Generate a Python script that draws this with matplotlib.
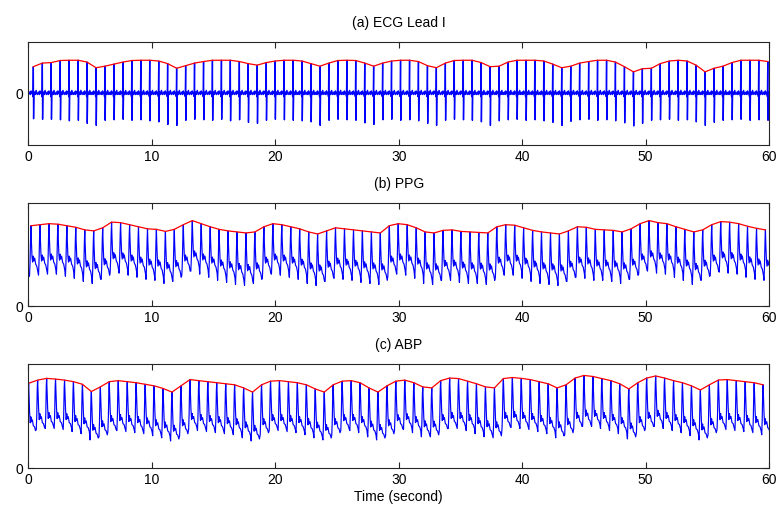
import numpy as np
import matplotlib
matplotlib.use('Agg')
import matplotlib.pyplot as plt

plt.rcParams['font.family'] = ['Liberation Sans', 'DejaVu Sans']

beat_times = [-0.33,
              0.40, 1.13, 1.85, 2.58, 3.30, 4.03, 4.75, 5.48, 6.20, 6.93,
              7.66, 8.38, 9.11, 9.83, 10.56, 11.28, 12.01, 12.74, 13.46, 14.19,
              14.91, 15.64, 16.36, 17.09, 17.81, 18.54, 19.27, 19.99, 20.72, 21.44,
              22.17, 22.89, 23.62, 24.34, 25.07, 25.80, 26.52, 27.25, 27.97, 28.70,
              29.42, 30.15, 30.88, 31.60, 32.33, 33.05, 33.78, 34.50, 35.23, 35.95,
              36.68, 37.41, 38.13, 38.86, 39.58, 40.31, 41.03, 41.76, 42.48, 43.21,
              43.94, 44.66, 45.39, 46.11, 46.84, 47.56, 48.29, 49.02, 49.74, 50.47,
              51.19, 51.92, 52.64, 53.37, 54.09, 54.82, 55.55, 56.27, 57.00, 57.72,
              58.45, 59.17, 59.90]

# ECG R and S amplitudes per beat (axis runs -1..1)
ecg_r = [0.50,
         0.52, 0.59, 0.60, 0.64, 0.645, 0.645, 0.61, 0.50, 0.53, 0.57,
         0.61, 0.64, 0.645, 0.645, 0.63, 0.58, 0.49, 0.54, 0.59, 0.62,
         0.645, 0.645, 0.645, 0.62, 0.58, 0.55, 0.60, 0.63, 0.645, 0.645,
         0.63, 0.58, 0.53, 0.59, 0.64, 0.645, 0.64, 0.59, 0.53, 0.59,
         0.63, 0.645, 0.645, 0.62, 0.54, 0.50, 0.59, 0.64, 0.645, 0.645,
         0.60, 0.52, 0.53, 0.61, 0.645, 0.645, 0.645, 0.63, 0.57, 0.50,
         0.53, 0.59, 0.62, 0.645, 0.645, 0.61, 0.52, 0.42, 0.48, 0.49,
         0.58, 0.63, 0.645, 0.63, 0.55, 0.42, 0.49, 0.53, 0.60, 0.645,
         0.645, 0.645, 0.62]
ecg_s = [-0.50,
         -0.49, -0.50, -0.50, -0.51, -0.53, -0.52, -0.58, -0.62, -0.52, -0.51,
         -0.50, -0.52, -0.51, -0.53, -0.55, -0.60, -0.62, -0.52, -0.50, -0.51,
         -0.52, -0.50, -0.53, -0.51, -0.56, -0.58, -0.52, -0.50, -0.51, -0.52,
         -0.53, -0.55, -0.62, -0.52, -0.50, -0.51, -0.52, -0.57, -0.60, -0.51,
         -0.50, -0.52, -0.51, -0.53, -0.58, -0.62, -0.52, -0.50, -0.51, -0.52,
         -0.55, -0.62, -0.53, -0.51, -0.50, -0.52, -0.51, -0.53, -0.56, -0.62,
         -0.54, -0.51, -0.50, -0.52, -0.51, -0.53, -0.57, -0.63, -0.58, -0.52,
         -0.51, -0.50, -0.52, -0.51, -0.55, -0.62, -0.56, -0.52, -0.51, -0.50,
         -0.52, -0.51, -0.52]

# PPG systolic peaks and feet per beat (axis 0..1)
ppg_peak = [0.78, 0.79, 0.80, 0.795, 0.78, 0.765, 0.74, 0.73, 0.76, 0.815,
            0.81, 0.79, 0.77, 0.75, 0.745, 0.725, 0.745, 0.79, 0.83, 0.80,
            0.77, 0.745, 0.73, 0.72, 0.71, 0.72, 0.77, 0.80, 0.79, 0.77,
            0.75, 0.72, 0.70, 0.73, 0.76, 0.75, 0.74, 0.73, 0.72, 0.71,
            0.78, 0.80, 0.79, 0.76, 0.72, 0.71, 0.735, 0.74, 0.725, 0.72,
            0.715, 0.71, 0.77, 0.79, 0.785, 0.76, 0.735, 0.72, 0.71, 0.70,
            0.73, 0.77, 0.765, 0.745, 0.74, 0.735, 0.72, 0.75, 0.80, 0.83,
            0.81, 0.80, 0.77, 0.745, 0.72, 0.74, 0.79, 0.82, 0.815, 0.80,
            0.775, 0.755, 0.74, 0.73]
ppg_foot = [0.29, 0.30, 0.31, 0.31, 0.29, 0.27, 0.24, 0.22, 0.26, 0.32,
            0.32, 0.30, 0.28, 0.26, 0.25, 0.22, 0.24, 0.30, 0.34, 0.31,
            0.28, 0.25, 0.23, 0.21, 0.20, 0.22, 0.28, 0.31, 0.30, 0.28,
            0.26, 0.22, 0.20, 0.24, 0.27, 0.26, 0.25, 0.23, 0.22, 0.21,
            0.29, 0.31, 0.30, 0.27, 0.22, 0.21, 0.25, 0.25, 0.23, 0.22,
            0.22, 0.21, 0.28, 0.30, 0.30, 0.27, 0.24, 0.22, 0.21, 0.20,
            0.24, 0.28, 0.27, 0.25, 0.25, 0.24, 0.22, 0.26, 0.31, 0.34,
            0.32, 0.31, 0.28, 0.25, 0.21, 0.25, 0.30, 0.33, 0.32, 0.31,
            0.28, 0.26, 0.25, 0.24]

# ABP systolic peaks and diastolic feet per beat (axis 0..1)
abp_peak = [0.815, 0.845, 0.862, 0.855, 0.845, 0.83, 0.805, 0.735, 0.78, 0.83,
            0.84, 0.83, 0.82, 0.805, 0.79, 0.765, 0.73, 0.79, 0.85, 0.84,
            0.83, 0.82, 0.81, 0.80, 0.77, 0.73, 0.80, 0.835, 0.84, 0.83,
            0.82, 0.80, 0.76, 0.73, 0.80, 0.835, 0.84, 0.82, 0.77, 0.73,
            0.79, 0.835, 0.845, 0.82, 0.78, 0.77, 0.84, 0.865, 0.86, 0.835,
            0.81, 0.78, 0.77, 0.86, 0.87, 0.862, 0.85, 0.83, 0.81, 0.77,
            0.80, 0.865, 0.89, 0.88, 0.86, 0.84, 0.81, 0.76, 0.82, 0.865,
            0.885, 0.865, 0.84, 0.82, 0.79, 0.75, 0.80, 0.846, 0.85, 0.84,
            0.83, 0.82, 0.80, 0.79]
abp_foot = [0.34, 0.37, 0.38, 0.38, 0.37, 0.35, 0.33, 0.27, 0.30, 0.35,
            0.36, 0.35, 0.34, 0.33, 0.31, 0.29, 0.26, 0.31, 0.37, 0.36,
            0.35, 0.34, 0.33, 0.32, 0.29, 0.26, 0.32, 0.36, 0.36, 0.35,
            0.34, 0.32, 0.29, 0.27, 0.32, 0.36, 0.36, 0.34, 0.30, 0.27,
            0.31, 0.36, 0.37, 0.34, 0.30, 0.30, 0.36, 0.38, 0.38, 0.36,
            0.33, 0.30, 0.29, 0.38, 0.39, 0.38, 0.37, 0.35, 0.33, 0.29,
            0.32, 0.38, 0.40, 0.40, 0.38, 0.36, 0.33, 0.28, 0.34, 0.38,
            0.40, 0.38, 0.36, 0.34, 0.31, 0.27, 0.32, 0.37, 0.37, 0.36,
            0.35, 0.34, 0.32, 0.31]

# pulse arrival delay after the R wave (s)
ppg_delay = 0.54
abp_delay = 0.35

# one-beat shapes: offset from the main peak (s) and level
ecg_off = [-0.36, -0.30, -0.24, -0.19, -0.14, -0.08, -0.03, 0.0, 0.02, 0.05, 0.10, 0.16, 0.22, 0.28, 0.32]
ecg_base = [0.00, 0.03, -0.02, 0.05, 0.00, 0.02, -0.06, 0.0, 0.0, -0.04, 0.03, -0.02, 0.06, 0.01, -0.02]
ppg_off = [-0.12, -0.08, -0.03, 0.0, 0.03, 0.08, 0.13, 0.18, 0.23, 0.30, 0.38, 0.47, 0.56]
ppg_lvl = [0.0, 0.25, 0.8, 1.0, 0.72, 0.40, 0.28, 0.40, 0.30, 0.36, 0.24, 0.20, 0.08]
abp_off = [-0.11, -0.07, -0.03, 0.0, 0.03, 0.08, 0.13, 0.18, 0.23, 0.30, 0.38, 0.47, 0.56]
abp_lvl = [0.0, 0.3, 0.85, 1.0, 0.75, 0.40, 0.20, 0.32, 0.22, 0.26, 0.14, 0.12, 0.04]


def ecg_trace():
    tt, vv = [], []
    for t0, r, s in zip(beat_times, ecg_r, ecg_s):
        v = list(ecg_base)
        v[7] = r
        v[8] = s
        tt += [t0 + o for o in ecg_off]
        vv += v
    return np.array(tt), np.array(vv)


def pulse_trace(delay, off, lvl, peaks, feet):
    tt, vv = [], []
    for t0, p, f in zip(beat_times, peaks, feet):
        tt += [t0 + delay + o for o in off]
        vv += [f + (p - f) * l for l in lvl]
    return np.array(tt), np.array(vv)


def envelope(delay, peaks):
    t = np.array(beat_times) + delay
    p = np.array(peaks)
    m = (t >= 0) & (t <= 60)
    return t[m], p[m]


fig = plt.figure(figsize=(7.8, 5.18), dpi=100)
ax1 = fig.add_axes([0.0364, 0.720, 0.9495, 0.199])
ax2 = fig.add_axes([0.0364, 0.409, 0.9495, 0.199])
ax3 = fig.add_axes([0.0364, 0.0965, 0.9495, 0.2008])

blue = '#0000ff'
red = '#ff0000'

t, v = ecg_trace()
ax1.plot(t, v, color=blue, lw=1.0)
et, ev = envelope(0.0, ecg_r)
ax1.plot(et, ev, color=red, lw=0.9)
ax1.set_ylim(-1, 1)
ax1.set_title('(a) ECG Lead I', fontsize=10, pad=11)

t, v = pulse_trace(ppg_delay, ppg_off, ppg_lvl, ppg_peak, ppg_foot)
ax2.plot(t, v, color=blue, lw=0.85)
et, ev = envelope(ppg_delay, ppg_peak)
ax2.plot(et, ev, color=red, lw=0.9)
ax2.set_ylim(0, 1)
ax2.set_title('(b) PPG', fontsize=10, pad=11)

t, v = pulse_trace(abp_delay, abp_off, abp_lvl, abp_peak, abp_foot)
ax3.plot(t, v, color=blue, lw=0.85)
et, ev = envelope(abp_delay, abp_peak)
ax3.plot(et, ev, color=red, lw=0.9)
ax3.set_ylim(0, 1)
ax3.set_title('(c) ABP', fontsize=10, pad=11)
ax3.set_xlabel('Time (second)', fontsize=10, labelpad=2)

for ax in (ax1, ax2, ax3):
    ax.set_xlim(0, 60)
    ax.set_xticks(np.arange(0, 61, 10))
    ax.set_yticks([0])
    ax.tick_params(direction='in', top=True, right=True, length=4,
                   width=0.8, labelsize=10, colors='#262626', labelcolor='black')
    for sp in ax.spines.values():
        sp.set_color('#262626')
        sp.set_linewidth(0.8)

fig.savefig('out.png', dpi=100)
